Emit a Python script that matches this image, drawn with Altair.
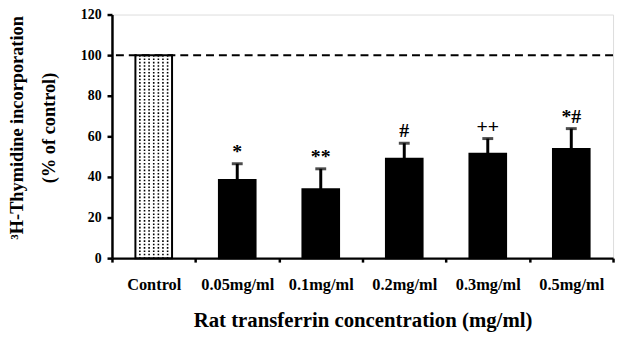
import altair as alt
import pandas as pd

categories = ["Control", "0.05mg/ml", "0.1mg/ml", "0.2mg/ml", "0.3mg/ml", "0.5mg/ml"]
means = [100, 38.5, 34, 49, 51.4, 53.8]
errors = [0, 8, 10, 7.6, 7.5, 10]
marks = ["", "*", "**", "#", "++", "*#"]
yticks = [0, 20, 40, 60, 80, 100, 120]

df = pd.DataFrame({"cat": categories, "mean": means, "err": errors, "mark": marks})
df["top"] = df["mean"] + df["err"]
df["zero"] = 0
df["fill"] = ["white"] + ["black"] * 5

FONT = "Liberation Serif"
W, H = 506, 246

xscale = alt.Scale(domain=categories, paddingInner=0, paddingOuter=0)
yscale = alt.Scale(domain=[0, 120], nice=False)

XAXIS = alt.Axis(title="Rat transferrin concentration (mg/ml)", labelAngle=0,
                 ticks=True, tickBand="extent", tickSize=4, tickWidth=2.5, tickColor="black",
                 domain=True, domainColor="black", domainWidth=2.5,
                 labelFont=FONT, labelFontSize=16.5, labelFontWeight="bold",
                 labelColor="black", labelPadding=15,
                 titleFont=FONT, titleFontSize=21, titleFontWeight="bold",
                 titleColor="black", titlePadding=17)
YAXIS = alt.Axis(title=["³H-Thymidine incorporation", "(% of control)"],
                 values=yticks, grid=False, tickSize=5, tickWidth=2.5,
                 tickColor="black", domainColor="black", domainWidth=2.5,
                 labelFont=FONT, labelFontSize=14, labelFontWeight="bold",
                 labelColor="black", labelPadding=6,
                 titleFont=FONT, titleFontSize=18.5, titleFontWeight="bold",
                 titleColor="black", titleLineHeight=32,
                 titleX=-96, titleY=114, titleBaseline="middle",
                 titleAngle=-90, titleAlign="center")


def xe():
    return alt.X("cat:N", scale=xscale, sort=categories, axis=XAXIS)


def ye(field):
    return alt.Y(f"{field}:Q", scale=yscale, axis=YAXIS)


base = alt.Chart(df)

bars = base.mark_bar(size=37, stroke="black", strokeWidth=2).encode(
    x=xe(), y=ye("mean"),
    fill=alt.Fill("fill:N", scale=None),
)

ctrl = base.transform_filter(alt.datum.cat == "Control")
dots = [
    ctrl.mark_rule(color="black", strokeWidth=1.6, strokeDash=[1.6, 1.8], xOffset=off).encode(
        x=xe(), y=ye("mean"), y2="zero:Q",
    )
    for off in [-14, -9.3, -4.7, 0, 4.7, 9.3, 14]
]

err_rule = base.transform_filter(alt.datum.err > 0).mark_rule(color="black", strokeWidth=3).encode(
    x=xe(), y=ye("mean"), y2="top:Q",
)
err_cap = base.transform_filter(alt.datum.err > 0).mark_tick(
    color="black", thickness=3, size=11, orient="horizontal").encode(
    x=xe(), y=ye("top"),
)
labels = base.mark_text(font=FONT, fontSize=20, fontWeight="bold", color="black",
                        baseline="bottom", dy=-2).encode(
    x=xe(), y=ye("top"), text="mark:N",
)

ref = alt.Chart(pd.DataFrame({"v": [100]})).mark_rule(
    color="black", strokeWidth=2, strokeDash=[8, 5]).encode(y=ye("v"))

chart = alt.layer(bars, *dots, ref, err_rule, err_cap, labels).properties(
    width=W, height=H,
    autosize=alt.AutoSizeParams(type="none"),
    padding={"left": 105, "top": 5, "right": 4, "bottom": 74},
).configure_view(stroke="black", strokeWidth=2.5).configure(background="white")

chart.save("out.html", embed_options={"renderer": "svg", "actions": False})
